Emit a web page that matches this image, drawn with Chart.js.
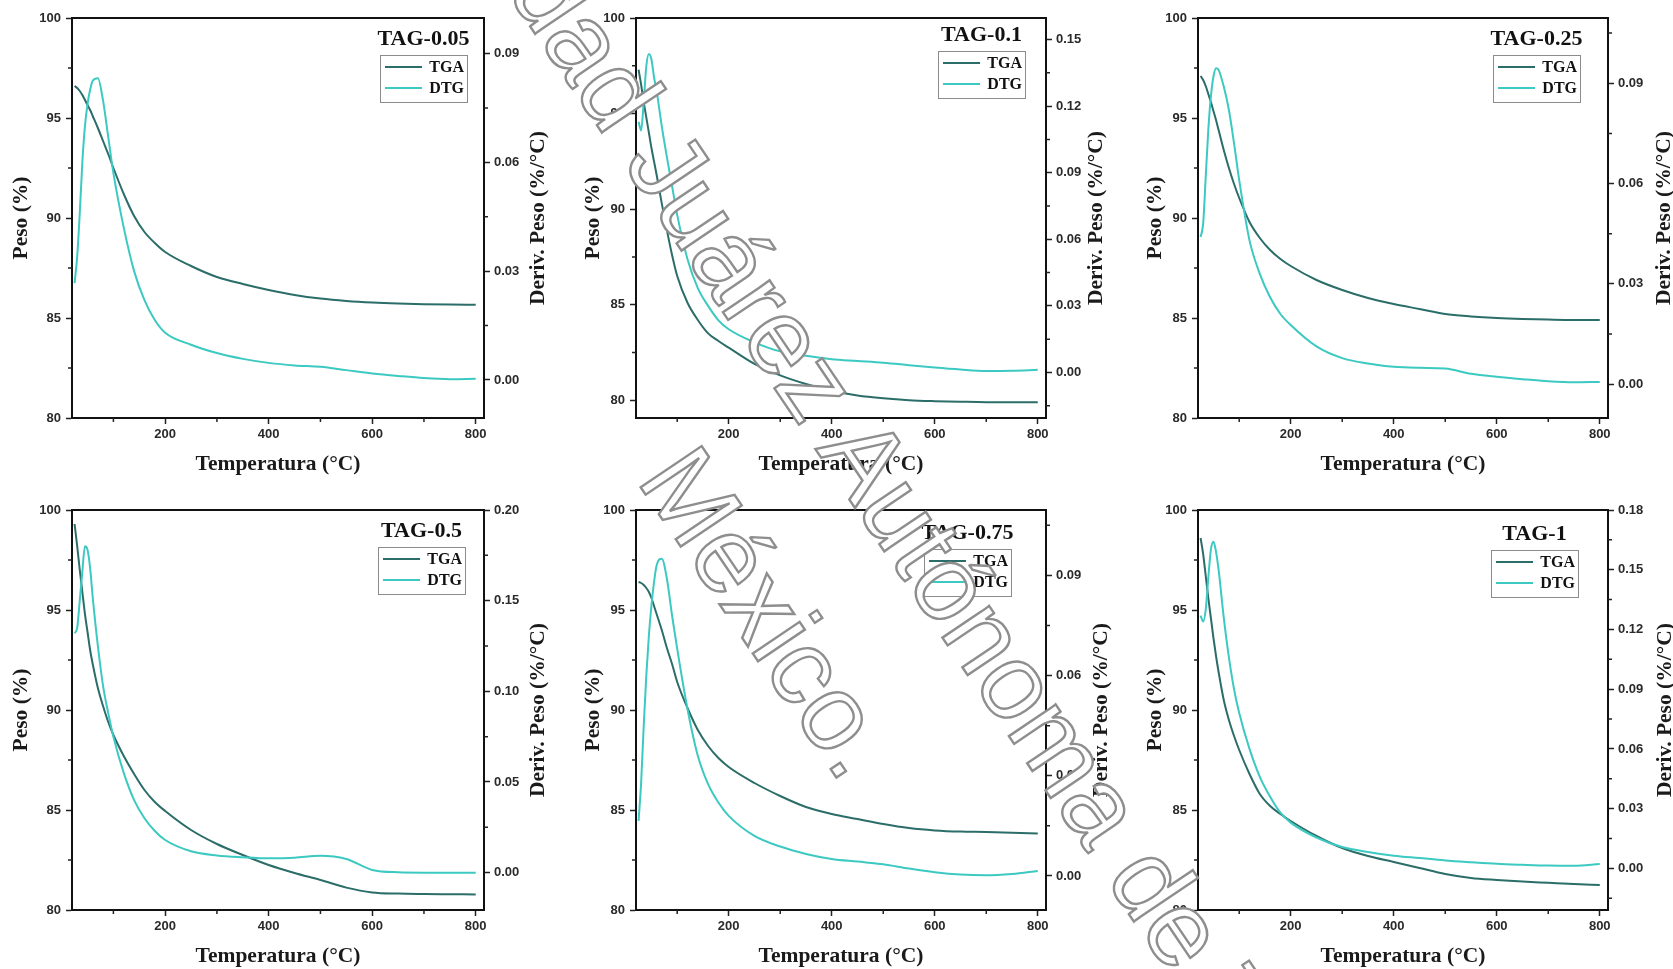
<!DOCTYPE html>
<html>
<head>
<meta charset="utf-8">
<title>TGA / DTG - TAG</title>
<script src="https://cdn.jsdelivr.net/npm/chart.js@4.4.1/dist/chart.umd.min.js"></script>
<style>
  html, body { margin: 0; padding: 0; background: #fff; overflow: hidden; }
  #page { position: relative; width: 1673px; height: 969px; overflow: hidden; background: #fff; }
  .panel { position: absolute; }
  .wm {
    position: absolute;
    font-family: "Liberation Sans", Arial, sans-serif;
    font-size: 107px;
    line-height: 1;
    white-space: nowrap;
    color: #fff;
    -webkit-text-stroke: 2.4px #8e8e8e;
    transform-origin: 0 50%;
    transform: rotate(56deg);
    pointer-events: none;
    z-index: 5;
  }
</style>
</head>
<body>
<div id="page">
  <div class="wm" style="left:320px; top:-404px;">Universidad Juárez Autónoma de Tabasco.</div>
  <div class="wm" style="left:666px; top:406px;">México.</div>
</div>
<script>
// temperature grid (°C) shared by every curve
const temps = [25, 30, 35, 40, 45, 50, 55, 60, 70, 80, 90, 100, 120, 140, 160, 180, 200,
  250, 300, 350, 400, 450, 500, 550, 600, 650, 700, 750, 800];

// weight (%) and derivative weight (%/°C)
const tga005 = [96.6, 96.5, 96.35, 96.15, 95.9, 95.65, 95.4, 95.1, 94.5, 93.85, 93.2, 92.5, 91.2, 90.1, 89.3, 88.75, 88.3,
  87.6, 87.05, 86.7, 86.4, 86.15, 85.97, 85.85, 85.77, 85.72, 85.69, 85.67, 85.66];
const dtg005 = [0.0267, 0.034, 0.046, 0.060, 0.070, 0.076, 0.080, 0.0825, 0.0832, 0.077, 0.067, 0.057, 0.042, 0.030, 0.022, 0.0165, 0.013,
  0.0097, 0.0074, 0.0058, 0.0047, 0.0040, 0.0036, 0.0027, 0.0018, 0.0011, 0.0005, 0.0002, 0.0003];

const tga01 = [97.3, 96.5, 95.6, 94.8, 94.0, 93.2, 92.5, 91.8, 90.3, 88.9, 87.6, 86.5, 85.1, 84.2, 83.5, 83.1, 82.75,
  81.9, 81.3, 80.85, 80.5, 80.25, 80.1, 80.0, 79.95, 79.92, 79.9, 79.9, 79.9];
const dtg01 = [0.113, 0.109, 0.122, 0.138, 0.1435, 0.141, 0.133, 0.127, 0.111, 0.097, 0.084, 0.071, 0.051, 0.038, 0.030, 0.0235, 0.0195,
  0.0136, 0.0095, 0.0075, 0.006, 0.0052, 0.0044, 0.0033, 0.0022, 0.0013, 0.0007, 0.0008, 0.0012];

const tga025 = [97.1, 96.9, 96.6, 96.2, 95.8, 95.35, 94.9, 94.4, 93.4, 92.5, 91.7, 91.0, 89.8, 89.0, 88.4, 87.95, 87.6,
  86.9, 86.4, 86.0, 85.7, 85.45, 85.2, 85.08, 85.0, 84.95, 84.92, 84.9, 84.9];
const dtg025 = [0.044, 0.048, 0.062, 0.076, 0.086, 0.092, 0.0945, 0.094, 0.089, 0.082, 0.072, 0.061, 0.043, 0.033, 0.026, 0.021, 0.0177,
  0.0113, 0.0078, 0.0062, 0.0052, 0.0049, 0.0047, 0.0031, 0.0022, 0.0015, 0.0009, 0.0006, 0.0007];

const tga05 = [99.3, 98.2, 97.0, 95.9, 94.8, 93.9, 93.0, 92.3, 91.1, 90.2, 89.4, 88.75, 87.7, 86.8, 86.0, 85.4, 84.95,
  84.0, 83.3, 82.75, 82.25, 81.85, 81.5, 81.12, 80.88, 80.82, 80.8, 80.79, 80.78];
const dtg05 = [0.132, 0.135, 0.150, 0.166, 0.180, 0.178, 0.168, 0.152, 0.125, 0.103, 0.088, 0.075, 0.055, 0.040, 0.030, 0.023, 0.018,
  0.0118, 0.0095, 0.0085, 0.0079, 0.0082, 0.0093, 0.0075, 0.0015, 0.0002, 0.0, 0.0, 0.0];

const tga075 = [96.4, 96.35, 96.25, 96.1, 95.9, 95.6, 95.2, 94.8, 94.0, 93.1, 92.3, 91.4, 90.1, 89.0, 88.2, 87.6, 87.15,
  86.35, 85.7, 85.15, 84.8, 84.55, 84.3, 84.1, 83.98, 83.92, 83.9, 83.86, 83.82];
const dtg075 = [0.0165, 0.028, 0.045, 0.060, 0.072, 0.081, 0.088, 0.093, 0.095, 0.089, 0.078, 0.068, 0.050, 0.036, 0.0275, 0.022, 0.018,
  0.012, 0.0088, 0.0066, 0.0051, 0.0043, 0.0035, 0.0022, 0.0011, 0.0004, 0.0002, 0.0006, 0.0015];

const tga1 = [98.6, 97.8, 96.7, 95.6, 94.6, 93.6, 92.7, 91.9, 90.5, 89.5, 88.7, 88.0, 86.8, 85.8, 85.2, 84.8, 84.45,
  83.7, 83.1, 82.7, 82.4, 82.1, 81.8, 81.6, 81.5, 81.42, 81.36, 81.3, 81.25];
const dtg1 = [0.127, 0.124, 0.130, 0.146, 0.160, 0.164, 0.159, 0.150, 0.126, 0.106, 0.090, 0.078, 0.060, 0.046, 0.036, 0.028, 0.023,
  0.0155, 0.0107, 0.0082, 0.0064, 0.0052, 0.0040, 0.0031, 0.0023, 0.0018, 0.0014, 0.0013, 0.0022];

const sampleNames = ['TAG-0.05', 'TAG-0.1', 'TAG-0.25', 'TAG-0.5', 'TAG-0.75', 'TAG-1'];

// tick labels
const tempTicks = [200, 400, 600, 800];
const weightTicks = [80, 85, 90, 95, 100];
const derivTicksA = [0, 0.03, 0.06, 0.09];
const derivTicksB = [0, 0.03, 0.06, 0.09, 0.12, 0.15];
const derivTicksC = [0, 0.05, 0.10, 0.15, 0.20];
const derivTicksD = [0, 0.03, 0.06, 0.09, 0.12, 0.15, 0.18];

const TGA_COLOR = '#2b6d68';
const DTG_COLOR = '#3cc9c1';
const SERIF = '"Liberation Serif", "Times New Roman", serif';
const SANS = '"Liberation Sans", Arial, sans-serif';

// margins around each plot area inside its canvas
const M = { l: 72, t: 18, r: 80, b: 60 };

// plot-area placement and per-panel axis ranges
const panels = [
  { name: sampleNames[0], tga: tga005, dtg: dtg005, dTicks: derivTicksA, dMin: -0.0105, dMax: 0.0998, wMin: 80,
    left: 72, top: 18, width: 412, legRight: 17, legTop: 37, leftOff: 51, rightOff: 54 },
  { name: sampleNames[1], tga: tga01, dtg: dtg01, dTicks: derivTicksB, dMin: -0.0205, dMax: 0.1597, wMin: 79.07,
    left: 636, top: 18, width: 410, legRight: 21, legTop: 33, leftOff: 43, rightOff: 50 },
  { name: sampleNames[2], tga: tga025, dtg: dtg025, dTicks: derivTicksA, dMin: -0.0101, dMax: 0.1095, wMin: 80,
    left: 1198, top: 18, width: 410, legRight: 28, legTop: 37, leftOff: 43, rightOff: 56 },
  { name: sampleNames[3], tga: tga05, dtg: dtg05, dTicks: derivTicksC, dMin: -0.0206, dMax: 0.2, wMin: 80,
    left: 72, top: 510, width: 412, legRight: 19, legTop: 37, leftOff: 51, rightOff: 54 },
  { name: sampleNames[4], tga: tga075, dtg: dtg075, dTicks: derivTicksA, dMin: -0.0102, dMax: 0.1096, wMin: 80,
    left: 636, top: 510, width: 410, legRight: 35, legTop: 39, leftOff: 43, rightOff: 55 },
  { name: sampleNames[5], tga: tga1, dtg: dtg1, dTicks: derivTicksD, dMin: -0.0209, dMax: 0.18, wMin: 80,
    left: 1198, top: 510, width: 410, legRight: 30, legTop: 40, leftOff: 43, rightOff: 57 }
];

// minor ticks sit halfway between major ticks
function minorValues(scale, majors) {
  const step = majors[1] - majors[0];
  const out = majors.map(v => v - step / 2);
  out.push(majors[majors.length - 1] + step / 2);
  return out.filter(v => v > scale.min && v < scale.max);
}

const decor = {
  id: 'tgaDecor',
  afterDraw(chart, args, o) {
    const { ctx, chartArea: a, scales } = chart;
    ctx.save();

    // top edge of the frame
    ctx.strokeStyle = '#111';
    ctx.lineWidth = 2;
    ctx.beginPath();
    ctx.moveTo(a.left - 1, a.top);
    ctx.lineTo(a.right + 1, a.top);
    ctx.stroke();

    // minor ticks, outward
    ctx.strokeStyle = '#222';
    ctx.lineWidth = 1.5;
    ctx.beginPath();
    minorValues(scales.x, tempTicks).forEach(v => {
      const px = scales.x.getPixelForValue(v);
      ctx.moveTo(px, a.bottom); ctx.lineTo(px, a.bottom + 4);
    });
    minorValues(scales.y, weightTicks).forEach(v => {
      const py = scales.y.getPixelForValue(v);
      ctx.moveTo(a.left, py); ctx.lineTo(a.left - 4, py);
    });
    minorValues(scales.y1, o.dTicks).forEach(v => {
      const py = scales.y1.getPixelForValue(v);
      ctx.moveTo(a.right, py); ctx.lineTo(a.right + 4, py);
    });
    ctx.stroke();

    // axis titles
    ctx.fillStyle = '#1a1a1a';
    ctx.font = 'bold 21.5px ' + SERIF;
    ctx.textAlign = 'center';
    ctx.textBaseline = 'middle';
    const midY = (a.top + a.bottom) / 2;
    ctx.fillText('Temperatura (°C)', (a.left + a.right) / 2, a.bottom + 46);
    ctx.save();
    ctx.translate(a.left - o.leftOff, midY);
    ctx.rotate(-Math.PI / 2);
    ctx.fillText('Peso (%)', 0, 0);
    ctx.restore();
    ctx.save();
    ctx.translate(a.right + o.rightOff, midY);
    ctx.rotate(-Math.PI / 2);
    ctx.fillText('Deriv. Peso (%/°C)', 0, 0);
    ctx.restore();

    // legend box with sample name above it
    const bw = 87, bh = 47;
    const bx = a.right - o.legRight - bw;
    const by = a.top + o.legTop;
    ctx.fillStyle = '#fff';
    ctx.fillRect(bx, by, bw, bh);
    ctx.strokeStyle = '#8c8c8c';
    ctx.lineWidth = 1;
    ctx.strokeRect(bx + 0.5, by + 0.5, bw, bh);

    ctx.fillStyle = '#111';
    ctx.font = 'bold 22px ' + SERIF;
    ctx.fillText(o.name, bx + bw / 2, by - 16);

    ctx.font = 'bold 16px ' + SERIF;
    ctx.textAlign = 'right';
    [['TGA', TGA_COLOR, 12], ['DTG', DTG_COLOR, 33]].forEach(([label, color, dy]) => {
      ctx.strokeStyle = color;
      ctx.lineWidth = 2;
      ctx.beginPath();
      ctx.moveTo(bx + 5, by + dy);
      ctx.lineTo(bx + 42, by + dy);
      ctx.stroke();
      ctx.fillStyle = '#111';
      ctx.fillText(label, bx + bw - 3, by + dy + 1);
    });

    ctx.restore();
  }
};

const tickFont = { family: SANS, size: 13, weight: 'bold' };
const gridStyle = { drawOnChartArea: false, drawTicks: true, tickLength: 6, tickWidth: 1.5, tickColor: '#222' };
const borderStyle = { color: '#111', width: 2 };

const page = document.getElementById('page');
const wmFirst = page.querySelector('.wm');

panels.forEach(p => {
  const box = document.createElement('div');
  box.className = 'panel';
  box.style.left = (p.left - M.l) + 'px';
  box.style.top = (p.top - M.t) + 'px';
  const cv = document.createElement('canvas');
  cv.width = M.l + p.width + M.r;
  cv.height = M.t + 400 + M.b;
  box.appendChild(cv);
  page.insertBefore(box, wmFirst);

  new Chart(cv, {
    type: 'line',
    data: {
      datasets: [
        {
          label: 'TGA',
          data: temps.map((t, k) => ({ x: t, y: p.tga[k] })),
          yAxisID: 'y',
          borderColor: TGA_COLOR,
          borderWidth: 2,
          pointRadius: 0,
          cubicInterpolationMode: 'monotone',
          order: 1
        },
        {
          label: 'DTG',
          data: temps.map((t, k) => ({ x: t, y: p.dtg[k] })),
          yAxisID: 'y1',
          borderColor: DTG_COLOR,
          borderWidth: 2,
          pointRadius: 0,
          cubicInterpolationMode: 'monotone',
          order: 0
        }
      ]
    },
    options: {
      responsive: false,
      animation: false,
      events: [],
      layout: { padding: { top: M.t, left: 0, right: 0, bottom: 0 }, autoPadding: false },
      plugins: {
        legend: { display: false },
        tooltip: { enabled: false },
        tgaDecor: { name: p.name, dTicks: p.dTicks, legRight: p.legRight, legTop: p.legTop,
          leftOff: p.leftOff, rightOff: p.rightOff }
      },
      scales: {
        x: {
          type: 'linear',
          min: 20,
          max: 816,
          afterBuildTicks: s => { s.ticks = tempTicks.map(v => ({ value: v })); },
          afterFit: s => { s.height = M.b; },
          ticks: { font: tickFont, color: '#2a2a2a', padding: 3, maxRotation: 0, autoSkip: false },
          grid: gridStyle,
          border: borderStyle
        },
        y: {
          type: 'linear',
          position: 'left',
          min: p.wMin,
          max: 100,
          afterBuildTicks: s => { s.ticks = weightTicks.map(v => ({ value: v })); },
          afterFit: s => { s.width = M.l; },
          ticks: { font: tickFont, color: '#2a2a2a', padding: 5, autoSkip: false },
          grid: gridStyle,
          border: borderStyle
        },
        y1: {
          type: 'linear',
          position: 'right',
          min: p.dMin,
          max: p.dMax,
          afterBuildTicks: s => { s.ticks = p.dTicks.map(v => ({ value: v })); },
          afterFit: s => { s.width = M.r; },
          ticks: { font: tickFont, color: '#2a2a2a', padding: 4, autoSkip: false,
            callback: v => Number(v).toFixed(2) },
          grid: gridStyle,
          border: borderStyle
        }
      }
    },
    plugins: [decor]
  });
});
</script>
</body>
</html>
